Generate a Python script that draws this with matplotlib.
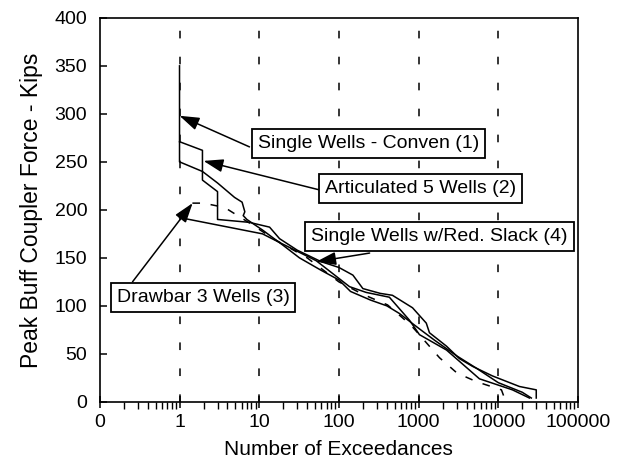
import numpy as np
import matplotlib
matplotlib.use("Agg")
import matplotlib.pyplot as plt

plt.rcParams['font.family'] = ['Liberation Sans', 'DejaVu Sans']

# Exceedance curves (number of exceedances vs peak buff force, kips)
conven_x = [1, 1, 1.94, 3.0, 4.9, 6.1, 6.6, 6.3, 7, 11, 20, 32, 60, 100, 140, 250,
            400, 576, 1026, 1600, 3000, 5330, 10000, 20000, 26000]
conven_y = [350, 250, 240, 228, 213, 208, 198, 194, 190, 179, 163, 150, 137, 127, 115, 106,
            100, 92, 76, 64, 48, 35, 20, 10, 4]

artic_x = [1, 1.94, 1.94, 3, 3, 7.5, 13.5, 18, 30, 60, 100, 150, 200, 330, 470, 840,
           1250, 1370, 2240, 3260, 4750, 8460, 18450, 30000, 30000]
artic_y = [271, 262, 231, 219, 190, 187, 182, 170, 158, 146, 140, 132, 118, 113, 111, 98,
           82, 72, 58, 45, 37, 27, 16, 12.5, 4]

drawbar_x = [1.45, 2.0, 3.0, 3.6, 8, 15, 40, 100, 200, 408, 800, 1830, 3040, 5330, 10970, 11960]
drawbar_y = [207, 207, 204, 203, 185, 170, 150, 125, 112, 101, 80, 46, 30, 21, 12.5, 4]

slack_x = [1, 11, 18, 52, 136, 220, 430, 770, 1026, 2240, 5810, 15070, 24600]
slack_y = [192, 175, 166, 147, 120, 114, 109, 85, 70, 54, 24, 12.5, 4]

xticks = [0.1, 1, 10, 100, 1000, 10000, 100000]
xtick_labels = ['0', '1', '10', '100', '1000', '10000', '100000']
yticks = [0, 50, 100, 150, 200, 250, 300, 350, 400]

fig = plt.figure(figsize=(6.4, 4.7), dpi=100)
ax = fig.add_axes([0.156, 0.145, 0.747, 0.817])

# dashed vertical grid at each decade
for xv in [1, 10, 100, 1000, 10000]:
    ax.axvline(xv, color='black', lw=1.1, dashes=(5, 12), zorder=1)

ax.plot(conven_x, conven_y, color='black', lw=1.1, zorder=2)
ax.plot(artic_x, artic_y, color='black', lw=1.1, zorder=2)
ax.plot(drawbar_x, drawbar_y, color='black', lw=1.1, dashes=(5, 7), zorder=2)
ax.plot(slack_x, slack_y, color='black', lw=1.1, zorder=2)

ax.set_xscale('log')
ax.set_xlim(0.1, 100000)
ax.set_ylim(0, 400)
ax.set_xticks(xticks)
ax.set_xticklabels(xtick_labels)
ax.set_yticks(yticks)
ax.tick_params(axis='x', which='major', direction='inout', length=9, width=1.1, labelsize=14, pad=4)
ax.tick_params(axis='x', which='minor', direction='out', length=5, width=1)
ax.tick_params(axis='y', direction='in', length=5, width=1.1, labelsize=14, pad=9)
for s in ax.spines.values():
    s.set_linewidth(1.2)

ax.set_xlabel('Number of Exceedances', fontsize=15, labelpad=7)
ax.set_ylabel('Peak Buff Coupler Force - Kips', fontsize=16.5, labelpad=8)

box = dict(boxstyle='square,pad=0.3', fc='white', ec='black', lw=1.3)
arrow = dict(arrowstyle='-|>,head_length=0.6,head_width=0.2', color='black', lw=1.1,
             mutation_scale=20, shrinkA=0, shrinkB=0)

labels = [
    ('Single Wells - Conven (1)', (238, 269), (7.55, 265.6), (1.0, 298)),
    ('Articulated 5 Wells (2)', (1057, 222), (55.7, 221), (2.0, 251)),
    ('Single Wells w/Red. Slack (4)', (1829, 172), (243, 155), (52, 146)),
    ('Drawbar 3 Wells (3)', (1.97, 109), (0.257, 125), (1.46, 207)),
]
for txt, pos, tail, tip in labels:
    ax.annotate('', xy=tip, xytext=tail, arrowprops=arrow, zorder=3)
    ax.text(pos[0], pos[1], txt, fontsize=14, ha='center', va='center', bbox=box, zorder=4)

plt.savefig('out.png', dpi=100)
